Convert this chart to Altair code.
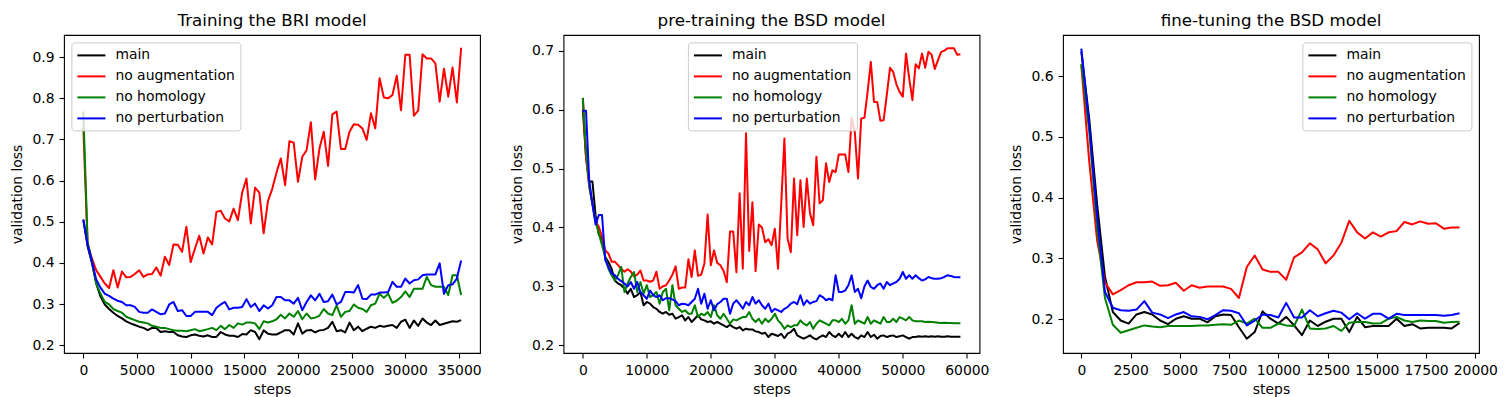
import altair as alt
import pandas as pd

NAMES = ["main", "no augmentation", "no homology", "no perturbation"]
COLORS = ["#000000", "#ff0000", "#008000", "#0000ff"]
FONT = "DejaVu Sans"

# ---------------- panel 1: Training the BRI model ----------------
p1_steps = list(range(0, 35201, 400))
p1_main = [0.505, 0.44, 0.40, 0.35, 0.318, 0.299, 0.288, 0.279, 0.271, 0.265,
           0.258, 0.253, 0.249, 0.245, 0.242, 0.2365, 0.242, 0.242, 0.232, 0.234,
           0.232, 0.232, 0.224, 0.221, 0.220, 0.224, 0.226, 0.223, 0.221, 0.224,
           0.220, 0.220, 0.232, 0.226, 0.223, 0.223, 0.220, 0.227, 0.226, 0.2365,
           0.232, 0.2146, 0.236, 0.228, 0.226, 0.226, 0.231, 0.2365, 0.2365, 0.226,
           0.253, 0.228, 0.236, 0.237, 0.231, 0.236, 0.237, 0.242, 0.257, 0.234,
           0.2365, 0.231, 0.255, 0.2365, 0.245, 0.234, 0.240, 0.245, 0.242, 0.247,
           0.245, 0.247, 0.249, 0.242, 0.257, 0.262, 0.242, 0.260, 0.247, 0.265,
           0.255, 0.249, 0.260, 0.249, 0.252, 0.255, 0.258, 0.257, 0.261]
p1_aug = [0.73, 0.445, 0.411, 0.382, 0.366, 0.350, 0.339, 0.382, 0.340, 0.379,
          0.365, 0.366, 0.373, 0.382, 0.366, 0.372, 0.373, 0.389, 0.369, 0.415,
          0.395, 0.445, 0.444, 0.427, 0.488, 0.402, 0.435, 0.466, 0.423, 0.462,
          0.445, 0.524, 0.527, 0.508, 0.501, 0.532, 0.504, 0.571, 0.605, 0.496,
          0.583, 0.571, 0.472, 0.550, 0.580, 0.620, 0.654, 0.589, 0.696, 0.692,
          0.597, 0.658, 0.674, 0.742, 0.603, 0.678, 0.719, 0.636, 0.761, 0.768,
          0.677, 0.677, 0.719, 0.737, 0.736, 0.727, 0.699, 0.764, 0.727, 0.849,
          0.802, 0.800, 0.808, 0.855, 0.771, 0.906, 0.906, 0.758, 0.770, 0.907,
          0.897, 0.897, 0.885, 0.792, 0.872, 0.804, 0.875, 0.790, 0.923]
p1_hom = [0.768, 0.45, 0.405, 0.35, 0.325, 0.305, 0.299, 0.288, 0.283, 0.279,
          0.269, 0.265, 0.261, 0.257, 0.255, 0.253, 0.247, 0.245, 0.242, 0.242,
          0.239, 0.2365, 0.235, 0.235, 0.234, 0.2365, 0.239, 0.234, 0.2365, 0.239,
          0.242, 0.2365, 0.247, 0.239, 0.249, 0.242, 0.253, 0.250, 0.255, 0.255,
          0.253, 0.239, 0.258, 0.255, 0.258, 0.263, 0.274, 0.265, 0.277, 0.269,
          0.283, 0.263, 0.277, 0.265, 0.267, 0.272, 0.288, 0.277, 0.273, 0.297,
          0.269, 0.281, 0.283, 0.299, 0.291, 0.288, 0.281, 0.297, 0.301, 0.325,
          0.315, 0.325, 0.303, 0.308, 0.317, 0.331, 0.317, 0.337, 0.337, 0.337,
          0.366, 0.346, 0.342, 0.342, 0.342, 0.322, 0.370, 0.370, 0.322]
p1_per = [0.505, 0.445, 0.403, 0.360, 0.340, 0.325, 0.320, 0.313, 0.308, 0.305,
          0.297, 0.297, 0.293, 0.281, 0.279, 0.279, 0.287, 0.281, 0.275, 0.277,
          0.299, 0.305, 0.283, 0.285, 0.271, 0.271, 0.281, 0.281, 0.281, 0.281,
          0.273, 0.291, 0.299, 0.305, 0.287, 0.291, 0.291, 0.293, 0.312, 0.293,
          0.301, 0.283, 0.297, 0.289, 0.297, 0.317, 0.317, 0.309, 0.309, 0.301,
          0.315, 0.285, 0.305, 0.321, 0.309, 0.325, 0.305, 0.307, 0.323, 0.299,
          0.305, 0.329, 0.329, 0.328, 0.346, 0.313, 0.312, 0.323, 0.323, 0.328,
          0.328, 0.329, 0.354, 0.342, 0.342, 0.362, 0.350, 0.358, 0.360, 0.370,
          0.372, 0.372, 0.372, 0.399, 0.325, 0.346, 0.348, 0.362, 0.406]

# ---------------- panel 2: pre-training the BSD model ----------------
p2_steps = list(range(0, 59001, 500))
p2_main = [0.60, 0.52, 0.478, 0.478, 0.42, 0.388, 0.38, 0.35, 0.3415, 0.33,
           0.31, 0.305, 0.302, 0.296, 0.2877, 0.296, 0.282, 0.285, 0.2906, 0.268,
           0.2736, 0.2707, 0.265, 0.262, 0.2566, 0.2537, 0.2566, 0.252, 0.2537, 0.2452,
           0.248, 0.251, 0.2424, 0.248, 0.2396, 0.2452, 0.251, 0.244, 0.2424, 0.2396,
           0.2407, 0.2367, 0.2396, 0.2367, 0.2339, 0.231, 0.235, 0.231, 0.2282, 0.231,
           0.2254, 0.2282, 0.227, 0.227, 0.2237, 0.2226, 0.2197, 0.2214, 0.2141, 0.2197,
           0.218, 0.2158, 0.2197, 0.2124, 0.2197, 0.2226, 0.2282, 0.2169, 0.2141, 0.2113,
           0.2141, 0.2169, 0.2124, 0.2101, 0.2141, 0.2169, 0.2141, 0.2226, 0.2169, 0.2141,
           0.2197, 0.2141, 0.2226, 0.2141, 0.2197, 0.2141, 0.2113, 0.2169, 0.2141, 0.2226,
           0.2141, 0.218, 0.2113, 0.2158, 0.2169, 0.2141, 0.2158, 0.2169, 0.2141, 0.2153,
           0.2169, 0.2141, 0.2113, 0.2141, 0.2141, 0.2153, 0.2147, 0.2153, 0.2147, 0.2153,
           0.2147, 0.2153, 0.2147, 0.2147, 0.2153, 0.2147, 0.2147, 0.2147, 0.2147]
p2_aug = [0.62, 0.52, 0.47, 0.44, 0.41, 0.401, 0.385, 0.361, 0.356, 0.342,
          0.342, 0.336, 0.33, 0.325, 0.329, 0.325, 0.317, 0.32, 0.327, 0.310,
          0.310, 0.308, 0.31, 0.325, 0.296, 0.30, 0.302, 0.310, 0.32, 0.334,
          0.296, 0.298, 0.298, 0.346, 0.316, 0.361, 0.318, 0.32, 0.339, 0.422,
          0.336, 0.361, 0.34, 0.336, 0.326, 0.307, 0.393, 0.393, 0.324, 0.458,
          0.33, 0.56, 0.36, 0.443, 0.326, 0.405, 0.40, 0.375, 0.38, 0.37,
          0.398, 0.33, 0.44, 0.551, 0.381, 0.358, 0.483, 0.387, 0.480, 0.401,
          0.483, 0.424, 0.404, 0.520, 0.441, 0.446, 0.509, 0.477, 0.497, 0.494,
          0.524, 0.524, 0.524, 0.494, 0.586, 0.562, 0.483, 0.585, 0.586, 0.63,
          0.681, 0.613, 0.613, 0.581, 0.582, 0.625, 0.671, 0.664, 0.643, 0.63,
          0.622, 0.695, 0.653, 0.616, 0.677, 0.670, 0.695, 0.671, 0.698, 0.693,
          0.669, 0.684, 0.698, 0.70, 0.704, 0.704, 0.704, 0.693, 0.694]
p2_hom = [0.62, 0.53, 0.47, 0.44, 0.41, 0.39, 0.37, 0.35, 0.33, 0.319,
          0.310, 0.319, 0.333, 0.2906, 0.305, 0.316, 0.3245, 0.2906, 0.3075, 0.2877,
          0.302, 0.282, 0.285, 0.2906, 0.2707, 0.2906, 0.296, 0.2595, 0.302, 0.268,
          0.262, 0.2566, 0.2595, 0.2537, 0.2537, 0.268, 0.248, 0.2537, 0.251, 0.2566,
          0.248, 0.268, 0.251, 0.2452, 0.2537, 0.2452, 0.2367, 0.244, 0.2424, 0.2452,
          0.248, 0.248, 0.2566, 0.245, 0.2396, 0.2452, 0.2367, 0.2452, 0.2396, 0.2452,
          0.2537, 0.2424, 0.2367, 0.228, 0.2339, 0.231, 0.2339, 0.2339, 0.2424, 0.2367,
          0.2339, 0.2396, 0.228, 0.2367, 0.2424, 0.2396, 0.2367, 0.2339, 0.2424, 0.2424,
          0.2396, 0.2452, 0.2367, 0.2424, 0.268, 0.2367, 0.2424, 0.2396, 0.2367, 0.248,
          0.2367, 0.2424, 0.2396, 0.2367, 0.248, 0.2396, 0.2396, 0.2452, 0.2396, 0.248,
          0.2452, 0.2424, 0.248, 0.2424, 0.2407, 0.241, 0.241, 0.2396, 0.24, 0.2396,
          0.239, 0.2385, 0.238, 0.2385, 0.238, 0.238, 0.2375, 0.2375, 0.2375]
p2_per = [0.598, 0.598, 0.48, 0.44, 0.405, 0.421, 0.421, 0.345, 0.333, 0.322,
          0.319, 0.313, 0.309, 0.305, 0.30, 0.3075, 0.296, 0.3075, 0.29, 0.285,
          0.279, 0.293, 0.285, 0.282, 0.285, 0.2765, 0.28, 0.28, 0.278, 0.275,
          0.268, 0.2707, 0.27, 0.268, 0.2736, 0.279, 0.296, 0.2707, 0.2877, 0.262,
          0.2765, 0.2595, 0.27, 0.2736, 0.279, 0.279, 0.2537, 0.2707, 0.2765, 0.27,
          0.262, 0.2736, 0.268, 0.282, 0.2707, 0.2765, 0.268, 0.262, 0.2707, 0.2566,
          0.262, 0.2595, 0.2566, 0.262, 0.265, 0.2707, 0.2736, 0.27, 0.285, 0.268,
          0.2765, 0.2707, 0.2736, 0.275, 0.285, 0.282, 0.2765, 0.279, 0.2765, 0.319,
          0.2906, 0.2906, 0.293, 0.302, 0.319, 0.2906, 0.296, 0.28, 0.30, 0.310,
          0.299, 0.296, 0.302, 0.305, 0.296, 0.3075, 0.302, 0.305, 0.3075, 0.313,
          0.3245, 0.313, 0.319, 0.313, 0.319, 0.314, 0.310, 0.312, 0.316, 0.314,
          0.313, 0.313, 0.314, 0.316, 0.319, 0.3178, 0.316, 0.3155, 0.3155]

# ---------------- panel 3: fine-tuning the BSD model ----------------
p3_steps = list(range(0, 19201, 400))
p3_main = [0.64, 0.53, 0.39, 0.27, 0.212, 0.198, 0.193, 0.208, 0.212, 0.208,
           0.198, 0.192, 0.201, 0.205, 0.201, 0.201, 0.195, 0.205, 0.208, 0.207,
           0.187, 0.168, 0.179, 0.213, 0.201, 0.193, 0.204, 0.190, 0.174, 0.198,
           0.189, 0.196, 0.201, 0.201, 0.179, 0.204, 0.187, 0.189, 0.189, 0.189,
           0.201, 0.189, 0.192, 0.185, 0.186, 0.186, 0.186, 0.185, 0.194]
p3_aug = [0.618, 0.46, 0.33, 0.261, 0.241, 0.248, 0.256, 0.261, 0.261, 0.262,
          0.255, 0.256, 0.260, 0.247, 0.256, 0.252, 0.254, 0.254, 0.254, 0.250,
          0.235, 0.286, 0.305, 0.282, 0.278, 0.278, 0.265, 0.302, 0.310, 0.325,
          0.315, 0.292, 0.305, 0.326, 0.362, 0.343, 0.333, 0.343, 0.336, 0.343,
          0.345, 0.360, 0.356, 0.361, 0.357, 0.358, 0.349, 0.351, 0.351]
p3_hom = [0.62, 0.51, 0.35, 0.235, 0.191, 0.178, 0.182, 0.186, 0.190, 0.188,
          0.187, 0.189, 0.189, 0.189, 0.189, 0.190, 0.190, 0.191, 0.192, 0.191,
          0.198, 0.193, 0.201, 0.186, 0.186, 0.193, 0.190, 0.189, 0.216, 0.185,
          0.184, 0.185, 0.189, 0.181, 0.1945, 0.1956, 0.1956, 0.193, 0.1934, 0.201,
          0.204, 0.198, 0.1956, 0.198, 0.1973, 0.1973, 0.1945, 0.1956, 0.196]
p3_per = [0.645, 0.52, 0.37, 0.245, 0.219, 0.215, 0.214, 0.216, 0.230, 0.211,
          0.208, 0.202, 0.208, 0.212, 0.205, 0.204, 0.200, 0.207, 0.215, 0.214,
          0.210, 0.190, 0.198, 0.208, 0.207, 0.203, 0.227, 0.203, 0.203, 0.215,
          0.205, 0.210, 0.214, 0.211, 0.200, 0.210, 0.201, 0.209, 0.209, 0.201,
          0.209, 0.207, 0.207, 0.207, 0.207, 0.207, 0.206, 0.207, 0.210]


def long_df(steps, series):
    rows = []
    for name, vals in zip(NAMES, series):
        for s, v in zip(steps, vals):
            rows.append({"step": s, "loss": v, "series": name})
    return pd.DataFrame(rows)


def panel(df, title, xdom, ydom, xticks, yticks, lx):
    legend = alt.Legend(
        orient="none", legendX=lx, legendY=7.4, title=None,
        symbolType="M-1,0H3", symbolSize=196, symbolStrokeWidth=2,
        symbolFillColor="transparent",
        labelFont=FONT, labelFontSize=13.9, labelColor="black",
        fillColor="rgba(255,255,255,0.8)", strokeColor="#cccccc",
        cornerRadius=3, padding=5, rowPadding=6, labelOffset=23,
    )
    layers = []
    for name in NAMES:
        layers.append(
            alt.Chart(df)
            .transform_filter(alt.datum.series == name)
            .mark_line(strokeWidth=2, strokeJoin="round")
            .encode(
                x=alt.X("step:Q", scale=alt.Scale(domain=xdom, nice=False, zero=False),
                        axis=alt.Axis(values=xticks, format="d", title="steps")),
                y=alt.Y("loss:Q", scale=alt.Scale(domain=ydom, nice=False, zero=False),
                        axis=alt.Axis(values=yticks, format=".1f", title="validation loss")),
                color=alt.Color("series:N", scale=alt.Scale(domain=NAMES, range=COLORS),
                                legend=legend),
            )
        )
    return alt.layer(*layers).properties(width=416, height=318, title=title)


c1 = panel(long_df(p1_steps, [p1_main, p1_aug, p1_hom, p1_per]),
           "Training the BRI model", [-1801, 36957], [0.181, 0.954],
           list(range(0, 35001, 5000)), [0.2, 0.3, 0.4, 0.5, 0.6, 0.7, 0.8, 0.9], 7.4)
c2 = panel(long_df(p2_steps, [p2_main, p2_aug, p2_hom, p2_per]),
           "pre-training the BSD model", [-3018, 61983], [0.187, 0.7266],
           list(range(0, 60001, 10000)), [0.2, 0.3, 0.4, 0.5, 0.6, 0.7], 124.4)
c3 = panel(long_df(p3_steps, [p3_main, p3_aug, p3_hom, p3_per]),
           "fine-tuning the BSD model", [-930, 20186], [0.1446, 0.6675],
           list(range(0, 20001, 2500)), [0.2, 0.3, 0.4, 0.5, 0.6], 239.4)

chart = (
    alt.hconcat(c1, c2, c3, spacing=83.5, bounds="flush")
    .resolve_scale(color="independent")
    .resolve_legend(color="independent")
    .properties(padding={"left": 2, "top": 4, "right": 0, "bottom": 0})
    .configure_view(stroke="black", strokeWidth=1.1)
    .configure_axis(domain=False, grid=False, tickColor="black", tickSize=5,
                    tickWidth=1.1, labelFont=FONT, labelFontSize=13.9,
                    labelColor="black", labelPadding=5, labelOverlap=False,
                    titleFont=FONT, titleFontSize=13.9, titleFontWeight="normal",
                    titleColor="black")
    .configure_axisX(titlePadding=6)
    .configure_axisY(titlePadding=7)
    .configure_title(font=FONT, fontSize=16.7, fontWeight="normal", color="black",
                     offset=5, anchor="middle")
)

chart.save("out.html", embed_options={"renderer": "svg", "actions": False})
